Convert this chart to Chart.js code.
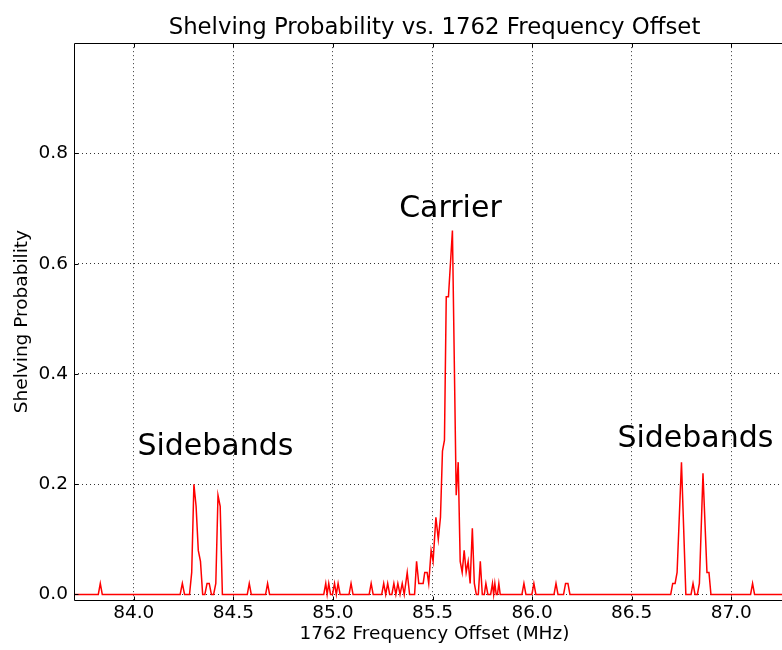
<!DOCTYPE html>
<html>
<head>
<meta charset="utf-8">
<script src="https://cdn.jsdelivr.net/npm/chart.js@4/dist/chart.umd.min.js"></script>
<style>
  html, body { margin: 0; padding: 0; background: #fff; overflow: hidden; }
  #wrap { position: relative; width: 869px; height: 650px; }
</style>
</head>
<body>
<div id="wrap"><canvas id="scan" width="869" height="650"></canvas></div>
<script>
// 1762 nm scan: frequency offset (MHz) and measured shelving probability
const freqMHz = [
  83.700, 83.822, 83.832, 83.842,
  84.233, 84.244, 84.255, 84.280, 84.291, 84.302, 84.313, 84.324, 84.335, 84.346,
  84.357, 84.368, 84.379, 84.390, 84.401, 84.412, 84.423, 84.434, 84.445,
  84.570, 84.580, 84.590, 84.662, 84.672, 84.682,
  84.954, 84.964, 84.971, 84.979, 84.988, 84.998, 85.008, 85.017, 85.026, 85.036,
  85.081, 85.091, 85.101, 85.182, 85.192, 85.202,
  85.245, 85.255, 85.265, 85.275, 85.285, 85.296, 85.306, 85.316, 85.326, 85.337,
  85.348, 85.358, 85.373, 85.385, 85.410, 85.420, 85.431, 85.440, 85.453, 85.461,
  85.473, 85.481, 85.493, 85.503, 85.517, 85.529, 85.540, 85.550, 85.560, 85.569,
  85.580, 85.600, 85.619, 85.629, 85.639, 85.649, 85.659, 85.669, 85.679, 85.689,
  85.700, 85.710, 85.720, 85.730, 85.740, 85.750, 85.760, 85.768, 85.778, 85.792,
  85.801, 85.807, 85.813, 85.820, 85.826, 85.833, 85.840,
  85.949, 85.959, 85.969, 85.999, 86.009, 86.019, 86.110, 86.120, 86.130,
  86.158, 86.168, 86.180, 86.190,
  86.696, 86.706, 86.718, 86.728, 86.750, 86.772, 86.798, 86.808, 86.818, 86.830,
  86.840, 86.858, 86.878, 86.888, 86.898,
  87.097, 87.107, 87.117, 87.320
];
const shelvingProb = [
  0, 0, 0.02, 0,
  0, 0.02, 0, 0, 0.04, 0.20, 0.16, 0.08, 0.06, 0,
  0, 0.02, 0.02, 0, 0, 0.02, 0.18, 0.16, 0,
  0, 0.02, 0, 0, 0.02, 0,
  0, 0.02, 0, 0.02, 0, 0, 0.02, 0, 0.02, 0,
  0, 0.02, 0, 0, 0.02, 0,
  0, 0.02, 0, 0.02, 0, 0, 0.02, 0, 0.02, 0,
  0.02, 0, 0.04, 0, 0, 0.06, 0.02, 0.02, 0.02, 0.04,
  0.04, 0.02, 0.08, 0.06, 0.14, 0.10, 0.14, 0.26, 0.28, 0.54,
  0.54, 0.66, 0.18, 0.24, 0.06, 0.04, 0.08, 0.04, 0.06, 0.02,
  0.12, 0.02, 0, 0, 0.06, 0, 0, 0.02, 0, 0,
  0.02, 0, 0.02, 0, 0, 0.02, 0,
  0, 0.02, 0, 0, 0.02, 0, 0, 0.02, 0,
  0, 0.02, 0.02, 0,
  0, 0.02, 0.02, 0.04, 0.24, 0, 0, 0.02, 0, 0,
  0.02, 0.22, 0.04, 0.04, 0,
  0, 0.02, 0, 0
];

const xTickValues = [84.0, 84.5, 85.0, 85.5, 86.0, 86.5, 87.0];
const yTickValues = [0.0, 0.2, 0.4, 0.6, 0.8];

// peak annotations, placed in data units
const peakLabels    = ['Carrier', 'Sidebands', 'Sidebands'];
const peakLabelFreq = [85.59, 84.41, 86.82];
const peakLabelProb = [0.699, 0.267, 0.282];

const FONT = '"DejaVu Sans", "Liberation Sans", sans-serif';

// axes frame and inward-pointing tick marks
const frameTicks = {
  id: 'frameTicks',
  afterDatasetsDraw(chart) {
    const { ctx, chartArea: a, scales: { x, y } } = chart;
    ctx.save();
    ctx.strokeStyle = '#000';
    ctx.lineWidth = 1;
    const L = Math.round(a.left) + 0.5, R = Math.round(a.right) + 0.5;
    const T = Math.round(a.top) + 0.5, B = Math.round(a.bottom) + 0.5;
    ctx.beginPath();
    ctx.moveTo(L, T); ctx.lineTo(R, T); ctx.lineTo(R, B); ctx.lineTo(L, B); ctx.closePath();
    ctx.stroke();
    const len = 4;
    ctx.beginPath();
    x.ticks.forEach(t => {
      const px = Math.round(x.getPixelForValue(t.value)) + 0.5;
      ctx.moveTo(px, B); ctx.lineTo(px, B - len);
      ctx.moveTo(px, T); ctx.lineTo(px, T + len);
    });
    y.ticks.forEach(t => {
      const py = Math.round(y.getPixelForValue(t.value)) + 0.5;
      ctx.moveTo(L, py); ctx.lineTo(L + len, py);
      ctx.moveTo(R, py); ctx.lineTo(R - len, py);
    });
    ctx.stroke();
    ctx.restore();
  }
};

// text labels over the carrier and sideband peaks
const peakText = {
  id: 'peakText',
  afterDatasetsDraw(chart) {
    const { ctx, scales: { x, y } } = chart;
    ctx.save();
    ctx.fillStyle = '#000';
    ctx.font = '30px ' + FONT;
    ctx.textAlign = 'center';
    ctx.textBaseline = 'middle';
    peakLabels.forEach((txt, i) => {
      ctx.fillText(txt, x.getPixelForValue(peakLabelFreq[i]), y.getPixelForValue(peakLabelProb[i]));
    });
    ctx.restore();
  }
};

new Chart(document.getElementById('scan'), {
  type: 'line',
  data: {
    datasets: [{
      data: freqMHz.map((f, i) => ({ x: f, y: shelvingProb[i] })),
      borderColor: '#ff0000',
      borderWidth: 1.5,
      pointRadius: 0,
      tension: 0,
      fill: false
    }]
  },
  options: {
    responsive: false,
    animation: false,
    devicePixelRatio: 1,
    layout: { padding: { left: 0, right: 74, top: 0, bottom: 0 } },
    plugins: {
      legend: { display: false },
      tooltip: { enabled: false },
      title: {
        display: true,
        fullSize: false,
        text: 'Shelving Probability vs. 1762 Frequency Offset',
        color: '#000',
        font: { family: FONT, size: 22.8, weight: 'normal' },
        padding: { top: 14.5, bottom: 1.3 }
      }
    },
    scales: {
      x: {
        type: 'linear',
        min: 83.7,
        max: 87.32,
        afterBuildTicks: s => { s.ticks = xTickValues.map(v => ({ value: v })); },
        afterFit: s => { s.height = 50; },
        ticks: {
          callback: v => Number(v).toFixed(1),
          color: '#000',
          font: { family: FONT, size: 18.5 },
          padding: 2,
          maxRotation: 0,
          autoSkip: false
        },
        grid: { color: 'rgba(0,0,0,0.8)', lineWidth: 1, drawTicks: false },
        border: { display: false, dash: [1, 3] },
        title: {
          display: true,
          text: '1762 Frequency Offset (MHz)',
          color: '#000',
          font: { family: FONT, size: 18.5 },
          padding: { top: 0, bottom: 5 }
        }
      },
      y: {
        type: 'linear',
        min: -0.01,
        max: 1.0,
        afterBuildTicks: s => { s.ticks = yTickValues.map(v => ({ value: v })); },
        afterFit: s => { s.width = 74; },
        ticks: {
          callback: v => Number(v).toFixed(1),
          color: '#000',
          font: { family: FONT, size: 18.5 },
          padding: 6,
          autoSkip: false
        },
        grid: { color: 'rgba(0,0,0,0.8)', lineWidth: 1, drawTicks: false },
        border: { display: false, dash: [1, 3] },
        title: {
          display: true,
          text: 'Shelving Probability',
          color: '#000',
          font: { family: FONT, size: 18.5 },
          padding: { top: 11, bottom: 0 }
        }
      }
    }
  },
  plugins: [frameTicks, peakText]
});
</script>
</body>
</html>
